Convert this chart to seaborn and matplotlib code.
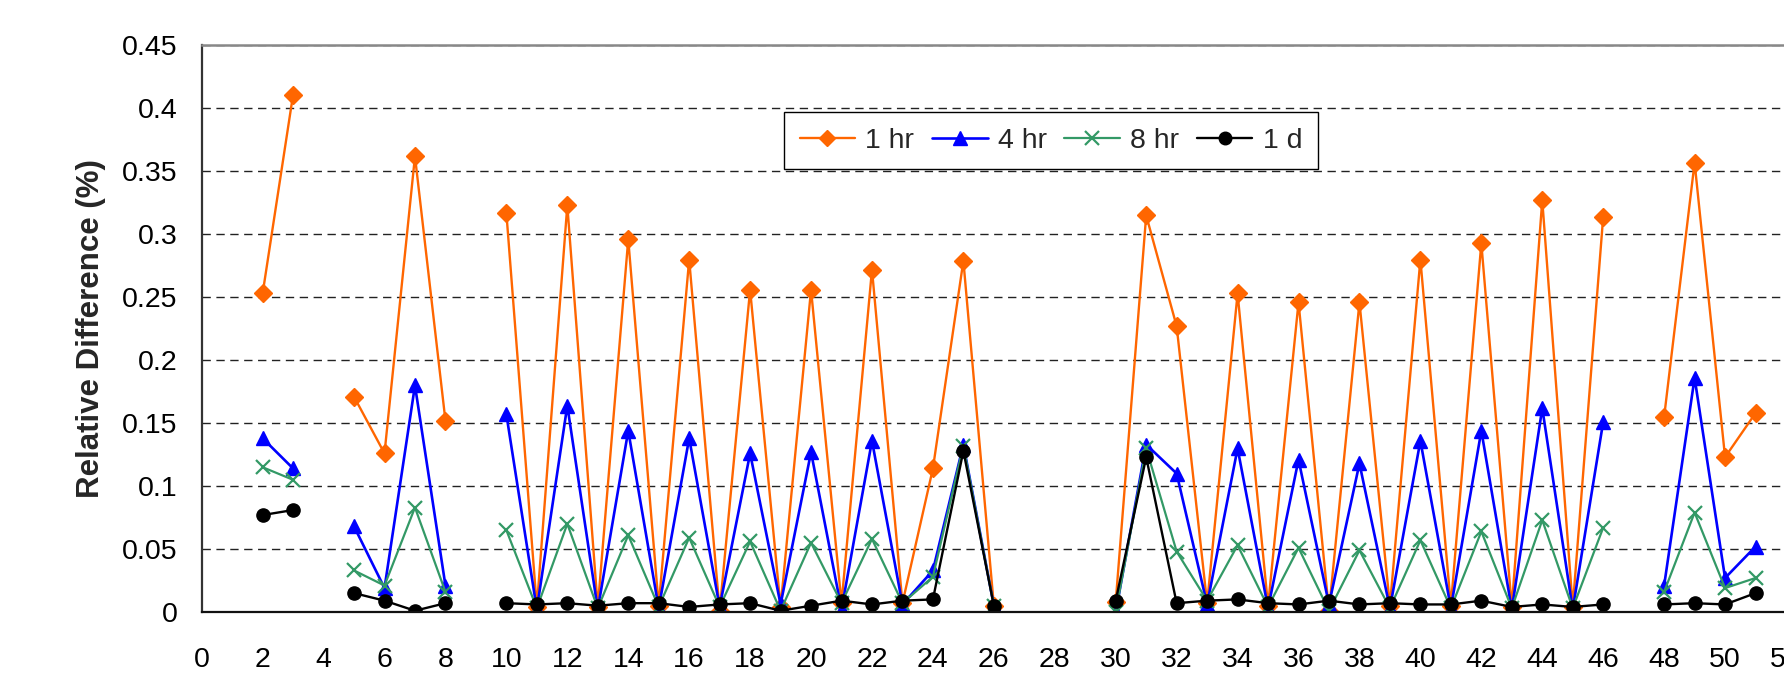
import numpy as np
import pandas as pd
import matplotlib
matplotlib.use("Agg")
import matplotlib.pyplot as plt
from matplotlib.lines import Line2D
import seaborn as sns

# Sample positions (gaps mark missing runs)
x_pos = [2, 3, 5, 6, 7, 8, 10, 11, 12, 13, 14, 15, 16, 17, 18, 19, 20, 21, 22,
         23, 24, 25, 26, 30, 31, 32, 33, 34, 35, 36, 37, 38, 39, 40, 41, 42,
         43, 44, 45, 46, 48, 49, 50, 51]

one_hr = [0.253, 0.411, 0.171, 0.126, 0.362, 0.152, 0.317, 0.004, 0.323, 0.004,
          0.296, 0.005, 0.280, 0.001, 0.256, 0.004, 0.256, 0.007, 0.272, 0.007,
          0.114, 0.279, 0.005, 0.008, 0.315, 0.227, 0.007, 0.253, 0.005, 0.246,
          0.001, 0.246, 0.005, 0.280, 0.005, 0.293, 0.004, 0.327, 0.004, 0.314,
          0.155, 0.357, 0.123, 0.158]

four_hr = [0.138, 0.114, 0.068, 0.019, 0.180, 0.021, 0.157, 0.002, 0.164, 0.002,
           0.144, 0.003, 0.138, 0.004, 0.126, 0.006, 0.127, 0.002, 0.136, 0.006,
           0.033, 0.133, 0.005, 0.000, 0.133, 0.110, 0.006, 0.130, 0.003, 0.121,
           0.006, 0.118, 0.003, 0.136, 0.003, 0.144, 0.002, 0.162, 0.002, 0.151,
           0.021, 0.186, 0.027, 0.052]

eight_hr = [0.115, 0.105, 0.033, 0.021, 0.083, 0.016, 0.065, 0.003, 0.070, 0.003,
            0.061, 0.004, 0.059, 0.004, 0.056, 0.001, 0.055, 0.007, 0.058, 0.007,
            0.028, 0.132, 0.005, 0.000, 0.130, 0.048, 0.009, 0.053, 0.004, 0.051,
            0.001, 0.049, 0.003, 0.057, 0.003, 0.064, 0.003, 0.073, 0.003, 0.067,
            0.016, 0.079, 0.019, 0.027]

one_day = [0.077, 0.081, 0.015, 0.009, 0.001, 0.007, 0.007, 0.006, 0.007, 0.005,
           0.007, 0.007, 0.004, 0.006, 0.007, 0.001, 0.005, 0.009, 0.006, 0.009,
           0.010, 0.128, 0.005, 0.009, 0.123, 0.007, 0.009, 0.010, 0.007, 0.006,
           0.009, 0.006, 0.007, 0.006, 0.006, 0.009, 0.004, 0.006, 0.004, 0.006,
           0.006, 0.007, 0.006, 0.015]

series_names = ["1 hr", "4 hr", "8 hr", "1 d"]
series_values = [one_hr, four_hr, eight_hr, one_day]

x_ticks = list(range(0, 54, 2))
y_ticks = [0, 0.05, 0.1, 0.15, 0.2, 0.25, 0.3, 0.35, 0.4, 0.45]
y_tick_labels = ["0", "0.05", "0.1", "0.15", "0.2", "0.25", "0.3", "0.35", "0.4", "0.45"]

styles = {
    "1 hr": dict(color="#FF6600", marker="D", ms=9.0, mew=1.0, lw=1.7),
    "4 hr": dict(color="#0000FF", marker="^", ms=10.5, mew=1.0, lw=1.9),
    "8 hr": dict(color="#339966", marker="x", ms=10, mew=1.6, lw=1.6),
    "1 d": dict(color="#000000", marker="o", ms=9.5, mew=1.0, lw=1.7),
}

# Contiguous runs of positions are drawn as separate line pieces
seg = np.concatenate([[0], np.cumsum(np.diff(x_pos) > 1)])

frames = []
for name, vals in zip(series_names, series_values):
    frames.append(pd.DataFrame({"x": x_pos, "y": vals, "series": name, "seg": seg}))
df = pd.concat(frames, ignore_index=True)

sns.set_theme(style="white")
plt.rcParams["font.family"] = ["Liberation Sans", "DejaVu Sans"]

fig = plt.figure(figsize=(17.84, 6.88), dpi=100)
ax = fig.add_axes([0.11306, 0.11047, 0.88806, 0.8234])

for name in series_names:
    st = styles[name]
    sub = df[df["series"] == name]
    sns.lineplot(data=sub, x="x", y="y", units="seg", estimator=None, ax=ax,
                 color=st["color"], marker=st["marker"], markersize=st["ms"],
                 markeredgecolor=st["color"], markerfacecolor=st["color"],
                 markeredgewidth=st["mew"], linewidth=st["lw"], legend=False,
                 sort=False)

ax.set_xlim(0, 52)
ax.set_ylim(0, 0.45)
ax.set_xticks(x_ticks)
ax.set_xticklabels([str(t) for t in x_ticks])
ax.set_yticks(y_ticks)
ax.set_yticklabels(y_tick_labels)

ax.yaxis.grid(True, color="#222222", linestyle=(0, (6, 4)), linewidth=1.0)
ax.xaxis.grid(False)
ax.set_axisbelow(True)

for side in ["left", "bottom", "top", "right"]:
    ax.spines[side].set_visible(True)
ax.spines["left"].set_color("#333333")
ax.spines["left"].set_linewidth(1.6)
ax.spines["bottom"].set_color("#111111")
ax.spines["bottom"].set_linewidth(1.6)
ax.spines["top"].set_color("#888888")
ax.spines["top"].set_linewidth(1.8)
ax.spines["right"].set_color("#888888")

ax.tick_params(axis="both", which="major", direction="out", length=7.5,
               width=1.2, color="#555555", labelsize=20.5, labelcolor="black")
ax.tick_params(axis="y", pad=10)
ax.tick_params(axis="x", pad=18)

ax.set_xlabel("")
ax.set_ylabel("Relative Difference (%)", fontsize=22.5, fontweight="bold",
              labelpad=11)

handles = [Line2D([], [], color=styles[n]["color"], marker=styles[n]["marker"],
                  markersize=styles[n]["ms"] * 0.95, markeredgecolor=styles[n]["color"],
                  markerfacecolor=styles[n]["color"],
                  markeredgewidth=styles[n]["mew"], linewidth=styles[n]["lw"])
           for n in series_names]
leg = ax.legend(handles, series_names, loc="upper left", ncol=4, fontsize=20.5,
                bbox_to_anchor=(0.4395, 0.8372), bbox_transform=fig.transFigure,
                borderaxespad=0, frameon=True, fancybox=False, shadow=False,
                handlelength=1.95, handletextpad=0.36, columnspacing=0.62,
                borderpad=0.55)
leg.get_frame().set_edgecolor("black")
leg.get_frame().set_linewidth(1.0)
leg.get_frame().set_facecolor("white")
leg.get_frame().set_alpha(1.0)

fig.savefig("out.png", dpi=100)
